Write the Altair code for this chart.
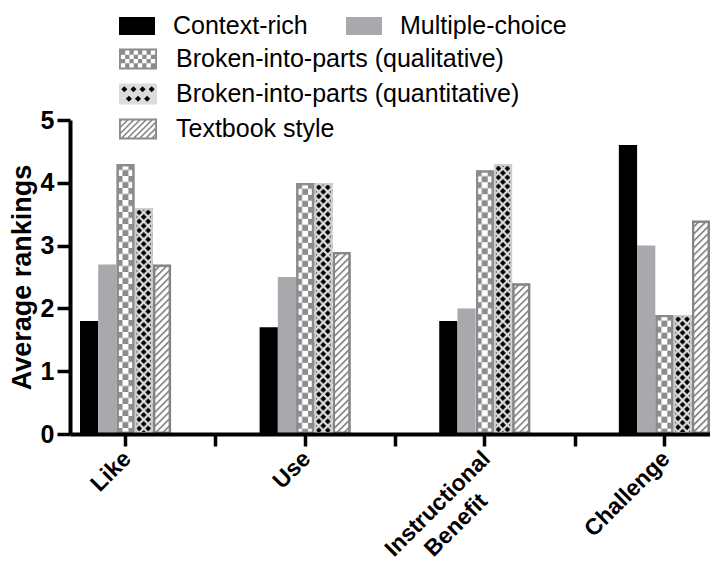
import base64
import altair as alt
import pandas as pd

# ---------------- data ----------------
categories = ["Like", "Use", "Instructional Benefit", "Challenge"]
series_names = [
    "Context-rich",
    "Multiple-choice",
    "Broken-into-parts (qualitative)",
    "Broken-into-parts (quantitative)",
    "Textbook style",
]
context_rich = [1.8, 1.7, 1.8, 4.6]
multiple_choice = [2.7, 2.5, 2.0, 3.0]
bip_qualitative = [4.3, 4.0, 4.2, 1.9]
bip_quantitative = [3.6, 4.0, 4.3, 1.9]
textbook_style = [2.7, 2.9, 2.4, 3.4]
y_ticks = [0, 1, 2, 3, 4, 5]

values = [context_rich, multiple_choice, bip_qualitative, bip_quantitative, textbook_style]
rows = []
for s, vals in zip(series_names, values):
    for c, v in zip(categories, vals):
        rows.append({"category": c, "series": s, "value": v})
df = pd.DataFrame(rows)

FONT = "Liberation Sans"
W, H = 640, 314
P_INNER = 0.4926
STEP = W / (4 - P_INNER + 2 * 0.0278)

# ---------------- pattern fills (SVG images) ----------------
def uri(svg):
    return "data:image/svg+xml;base64," + base64.b64encode(svg.encode()).decode()

SVG_HEAD = '<svg xmlns="http://www.w3.org/2000/svg" width="100%" height="100%">'
qual_svg = SVG_HEAD + (
    '<defs><pattern id="p" width="12" height="12" patternUnits="userSpaceOnUse">'
    '<rect width="12" height="12" fill="#ffffff"/>'
    '<rect width="6" height="6" fill="#8c8c8c"/>'
    '<rect x="6" y="6" width="6" height="6" fill="#8c8c8c"/>'
    '</pattern></defs>'
    '<rect width="100%" height="100%" fill="url(#p)" stroke="#8c8c8c" stroke-width="5"/></svg>'
)
quant_svg = SVG_HEAD + (
    '<defs><pattern id="p" width="9" height="9" patternUnits="userSpaceOnUse">'
    '<rect width="9" height="9" fill="#dcdcdc"/>'
    '<path d="M4.5,1.6L7.4,4.5L4.5,7.4L1.6,4.5Z M0,-2.9L2.9,0L0,2.9L-2.9,0Z '
    'M9,-2.9L11.9,0L9,2.9L6.1,0Z M0,6.1L2.9,9L0,11.9L-2.9,9Z M9,6.1L11.9,9L9,11.9L6.1,9Z" fill="#000"/>'
    '</pattern></defs>'
    '<rect width="100%" height="100%" fill="url(#p)" stroke="#cfcfcf" stroke-width="4"/></svg>'
)
hatch_svg = SVG_HEAD + (
    '<defs><pattern id="p" width="5" height="5" patternUnits="userSpaceOnUse" patternTransform="rotate(45)">'
    '<rect width="5" height="5" fill="#ffffff"/>'
    '<rect width="1.8" height="5" fill="#8a8a8a"/>'
    '</pattern></defs>'
    '<rect width="100%" height="100%" fill="url(#p)" stroke="#858585" stroke-width="5"/></svg>'
)

# ---------------- legend symbol paths (unit square coords) ----------------
def f(v):
    return ("%.3f" % v).rstrip("0").rstrip(".")

def rect(x0, y0, x1, y1, ccw=False):
    if ccw:
        return f"M{f(x0)},{f(y0)}V{f(y1)}H{f(x1)}V{f(y0)}Z"
    return f"M{f(x0)},{f(y0)}H{f(x1)}V{f(y1)}H{f(x0)}Z"

HY = 0.55
swatch_path = rect(-1, -HY, 1, HY)
frame = rect(-1, -HY, 1, HY) + rect(-0.9, -HY + 0.1, 0.9, HY - 0.1, ccw=True)

cells = []
ncols, nrows = 8, 4
cw = 1.8 / ncols
ch = (2 * HY - 0.2) / nrows
for i in range(ncols):
    for j in range(nrows):
        if (i + j) % 2 == 0:
            x0 = -0.9 + i * cw
            y0 = -HY + 0.1 + j * ch
            cells.append(rect(x0, y0, x0 + cw, y0 + ch))
checker_path = frame + "".join(cells)

diamonds = []
d = 0.16
for yc, xs in [(-0.25, [-0.72, -0.24, 0.24, 0.72]), (0.25, [-0.48, 0.0, 0.48])]:
    for xc in xs:
        diamonds.append(
            f"M{f(xc)},{f(yc - d)}L{f(xc + d)},{f(yc)}L{f(xc)},{f(yc + d)}L{f(xc - d)},{f(yc)}Z"
        )
diamond_path = "".join(diamonds)


def clip(poly, a, b, c):
    """keep a*x + b*y <= c"""
    out = []
    n = len(poly)
    for k in range(n):
        p, q = poly[k], poly[(k + 1) % n]
        fp = a * p[0] + b * p[1] - c
        fq = a * q[0] + b * q[1] - c
        if fp <= 0:
            out.append(p)
        if (fp < 0 < fq) or (fq < 0 < fp):
            t = fp / (fp - fq)
            out.append((p[0] + t * (q[0] - p[0]), p[1] + t * (q[1] - p[1])))
    return out


inner = [(-0.9, -HY + 0.1), (0.9, -HY + 0.1), (0.9, HY - 0.1), (-0.9, HY - 0.1)]
stripes = []
c = -1.4
while c < 1.4:
    poly = clip(inner, 1, 1, c + 0.12)
    poly = clip(poly, -1, -1, -c)
    if len(poly) >= 3:
        stripes.append("M" + "L".join(f"{f(x)},{f(y)}" for x, y in poly) + "Z")
    c += 0.32
hatch_path = frame + "".join(stripes)

# ---------------- scales ----------------
x_scale = alt.Scale(domain=categories, paddingInner=P_INNER, paddingOuter=0.0278, align=1)
off_scale = alt.Scale(domain=series_names, paddingInner=0, paddingOuter=0)
y_scale = alt.Scale(domain=[0, 5], nice=False)

NB = "\u00a0" * 5 + "\u200b"
label_expr = (
    "datum.value == 'Instructional Benefit' ? "
    f"['Instructional', 'Benefit{NB}'] : datum.label"
)

main_x_axis = alt.Axis(
    orient="bottom", title=None, labelAngle=-45, labelFont=FONT, labelFontSize=23,
    labelFontWeight="bold", labelColor="black", labelPadding=1, labelOffset=-6,
    labelLimit=1000, labelLineHeight=28, labelExpr=label_expr, tickSize=12,
    tickWidth=3.5, tickColor="black", domainColor="black", domainWidth=4, zindex=1,
)
between_axis = alt.Axis(
    orient="bottom", title=None, labels=False, domain=False, values=categories[:3],
    bandPosition=1, tickOffset=P_INNER * STEP / 2, tickSize=12, tickWidth=3.5,
    tickColor="black", zindex=1,
)
y_axis = alt.Axis(
    title="Average rankings", values=y_ticks, format="d", grid=False, titleFont=FONT,
    titleFontSize=27, titleFontWeight="bold", titleColor="black", titlePadding=4,
    labelFont=FONT, labelFontSize=25, labelFontWeight="bold", labelColor="black",
    labelPadding=3, tickSize=13, tickWidth=3.5, tickColor="black",
    domainColor="black", domainWidth=4, zindex=1,
)

base = alt.Chart(df)

LEG_COMMON = dict(
    orient="none", title=None, labelFont=FONT, labelFontSize=25, labelLimit=1000,
    padding=0, symbolStrokeWidth=0,
)

legend_a = alt.Legend(
    legendX=49, legendY=-112, direction="horizontal",
    symbolType="M-1,-0.5H1V0.5H-1Z", symbolSize=1296, labelColor="black",
    labelOffset=18, columnPadding=38, **LEG_COMMON,
)

solid_names = series_names[:2]
bars = base.transform_filter(
    alt.FieldOneOfPredicate(field="series", oneOf=solid_names)
).mark_bar(strokeWidth=0).encode(
    x=alt.X("category:N", scale=x_scale, axis=main_x_axis),
    xOffset=alt.XOffset("series:N", scale=off_scale),
    y=alt.Y("value:Q", scale=y_scale, axis=y_axis),
    color=alt.Color("series:N", scale=alt.Scale(domain=solid_names, range=["#000000", "#a8a8ad"]),
                    legend=legend_a),
)

layers = [bars]
for name, svg in zip(series_names[2:], [qual_svg, quant_svg, hatch_svg]):
    layers.append(
        base.transform_filter(alt.datum.series == name).mark_image(aspect=False).encode(
            x=alt.X("category:N", scale=x_scale, axis=None),
            xOffset=alt.XOffset("series:N", scale=off_scale),
            y=alt.Y("value:Q", scale=y_scale),
            y2=alt.datum(0),
            url=alt.value(uri(svg)),
        )
    )

pattern_names = series_names[2:]
LEG_B_POS = dict(legendX=49, legendY=-80, direction="vertical", labelOffset=19, rowPadding=3)

# background swatches for the pattern legend (labels hidden, drawn underneath)
legend_c = alt.Legend(symbolType=swatch_path, symbolSize=1444, labelColor="transparent",
                      **LEG_B_POS, **LEG_COMMON)
under = base.transform_filter("false").mark_point(filled=True, opacity=1).encode(
    x=alt.X("category:N", scale=x_scale, axis=None),
    y=alt.Y("value:Q", scale=y_scale),
    color=alt.Color("series:N", scale=alt.Scale(domain=pattern_names, range=["#ffffff", "#dcdcdc", "#ffffff"]),
                    legend=legend_c),
)
layers.append(under)

legend_b = alt.Legend(symbolSize=1444, labelColor="black", **LEG_B_POS, **LEG_COMMON)
dummy = base.transform_filter("false").mark_point(filled=True, opacity=1).encode(
    x=alt.X("category:N", scale=x_scale, axis=between_axis),
    y=alt.Y("value:Q", scale=y_scale),
    color=alt.Color("series:N", scale=alt.Scale(domain=pattern_names, range=["#8c8c8c", "#000000", "#8a8a8a"]),
                    legend=legend_b),
    shape=alt.Shape("series:N", scale=alt.Scale(domain=pattern_names, range=[checker_path, diamond_path, hatch_path]),
                    legend=legend_b),
)
layers.append(dummy)

chart = alt.layer(*layers).resolve_axis(x="independent").resolve_scale(
    color="independent", shape="independent"
).properties(
    width=W, height=H, padding={"left": 0, "top": 0, "right": 0, "bottom": 2},
    background="white",
).configure_view(stroke=None)

chart.save("out.html", embed_options={"renderer": "svg", "actions": False})
